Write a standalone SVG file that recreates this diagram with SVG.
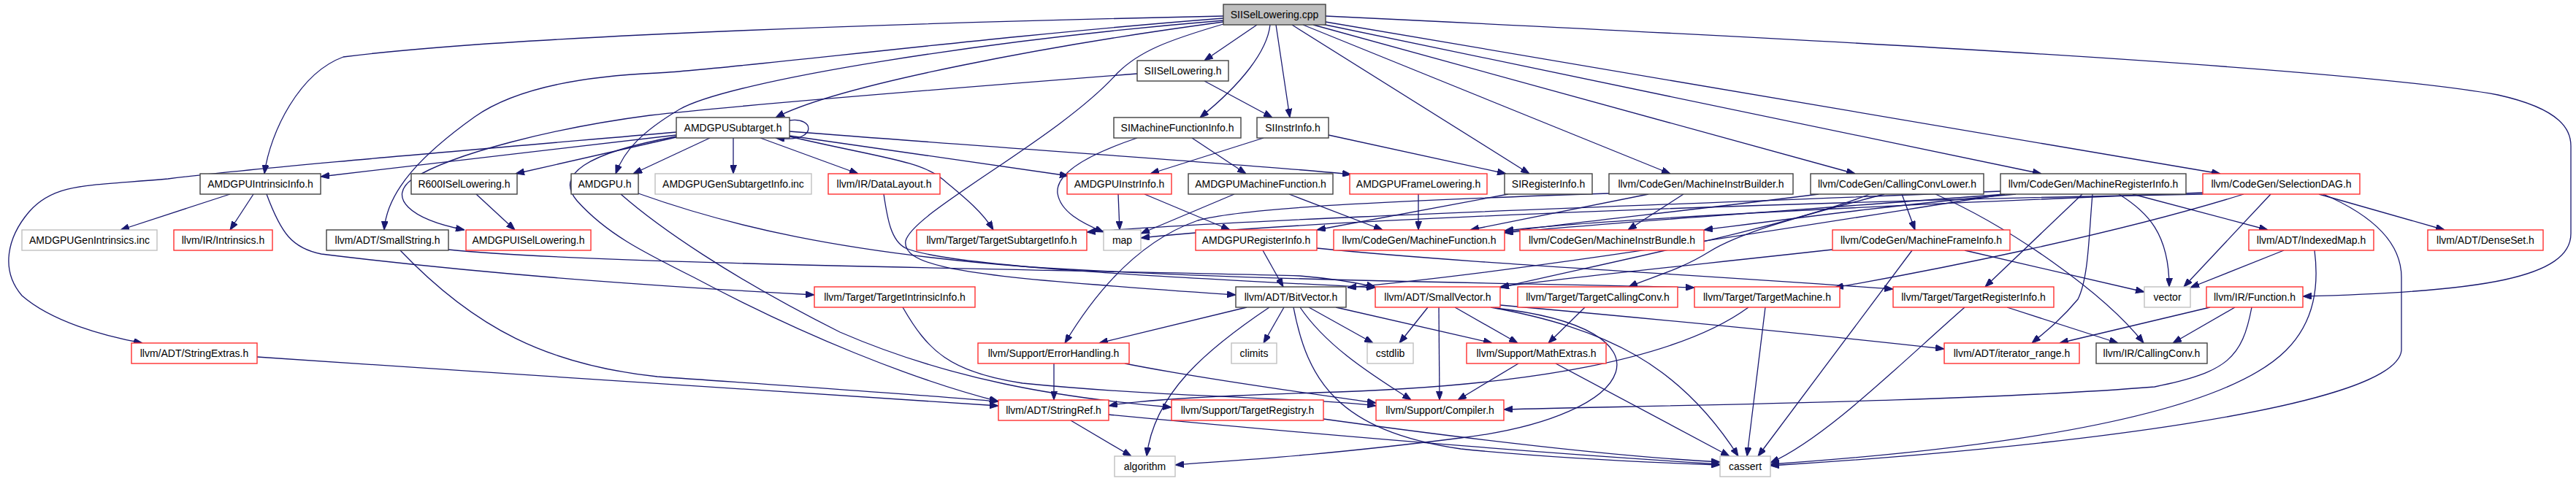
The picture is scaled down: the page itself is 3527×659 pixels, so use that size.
<svg xmlns="http://www.w3.org/2000/svg" width="3527" height="659" viewBox="0 0 3527 659">
<style>
rect{stroke-width:1.4}
.n{fill:#fff;stroke:#404040}
.r{fill:#fff;stroke:#ff3030}
.g{fill:#fff;stroke:#c0c0c0}
.root{fill:#bfbfbf;stroke:#404040}
text{font-family:"Liberation Sans",Arial,sans-serif;font-size:14px;fill:#000;text-anchor:middle}
#edges path{fill:none;stroke:#191970;stroke-width:1.3;marker-end:url(#a)}
</style>
<defs>
<marker id="a" markerUnits="userSpaceOnUse" viewBox="0 0 12 9" markerWidth="12" markerHeight="9" refX="12" refY="4.5" orient="auto">
<path d="M0,0 L12,4.5 L0,9 z" fill="#191970" stroke="#191970"/>
</marker>
</defs>
<rect width="3527" height="659" fill="#fff"/>
<g id="edges">
<path d="M1721,34 L1649,83"/>
<path d="M1747,34 L1766,161"/>
<path d="M1739,34 C1735,70 1700,115 1643,161"/>
<path d="M1675,30 C1450,60 1150,115 1062,161"/>
<path d="M1675,28 C1350,55 1000,110 930,150 C880,180 855,205 843,238"/>
<path d="M1675,22 C1300,30 700,48 470,78 C410,100 370,180 362,238"/>
<path d="M1675,25 C1350,50 1000,95 900,100 C780,105 700,125 650,160 C580,210 530,260 526,315"/>
<path d="M1675,33 C1600,55 1560,70 1530,100 C1450,190 1250,290 1240,330 C1235,360 1300,375 1500,390 C1600,398 1660,402 1692,404"/>
<path d="M1769,34 L2094,238"/>
<path d="M1784,34 L2287,238"/>
<path d="M1798,34 L2540,238"/>
<path d="M1810,33 L2795,238"/>
<path d="M1815,30 L3040,238"/>
<path d="M1815,22 C2400,50 3200,90 3420,130 C3510,150 3520,180 3520,200 L3520,320 C3520,380 3400,400 3153,406"/>
<path d="M1557,101 C1250,125 1000,145 890,158 C760,175 620,210 565,245 C530,270 560,300 636,315"/>
<path d="M1649,111 L1742,161"/>
<path d="M1081,165 C1115,160 1118,192 1075,190 L1062,189"/>
<path d="M972,189 L867,238"/>
<path d="M926,185 L439,242"/>
<path d="M926,181 C650,205 350,230 230,245 C120,255 75,250 40,290 C10,325 0,370 30,405 C70,440 140,460 195,470"/>
<path d="M926,188 L706,238"/>
<path d="M926,187 C800,210 760,240 790,275 C830,320 880,345 950,380 C1100,460 1250,520 1367,550"/>
<path d="M1004,189 L1004,238"/>
<path d="M1041,189 L1175,238"/>
<path d="M1081,186 L1463,241"/>
<path d="M1081,187 C1200,215 1260,220 1290,245 C1320,270 1345,290 1360,315"/>
<path d="M1081,180 C1400,205 1750,228 1850,239"/>
<path d="M1557,189 C1480,215 1445,240 1448,265 C1452,290 1480,305 1511,318"/>
<path d="M1632,189 L1706,238"/>
<path d="M1730,189 L1575,238"/>
<path d="M1819,185 L2062,238"/>
<path d="M315,266 L165,315"/>
<path d="M347,266 L315,315"/>
<path d="M365,266 C385,320 400,340 440,348 C700,380 950,395 1115,404"/>
<path d="M652,266 L705,315"/>
<path d="M850,266 C900,310 1000,380 1150,455 C1300,520 1450,545 1604,558"/>
<path d="M874,265 C1000,310 1150,345 1400,365 C1700,385 2100,388 2320,394"/>
<path d="M1210,266 C1215,300 1220,330 1240,340 C1300,365 1600,380 1883,394"/>
<path d="M1531,266 L1533,315"/>
<path d="M1567,266 L1684,315"/>
<path d="M1690,266 L1562,320"/>
<path d="M1765,266 L1893,315"/>
<path d="M1942,266 L1942,315"/>
<path d="M2065,266 L1803,315"/>
<path d="M2257,266 L2013,315"/>
<path d="M2305,266 L2229,315"/>
<path d="M2203,265 C1900,275 1700,285 1640,302 C1560,330 1500,400 1458,470"/>
<path d="M2490,266 C2300,290 2150,305 2060,318"/>
<path d="M2560,266 C2450,310 2200,360 2054,394"/>
<path d="M2580,266 C2450,300 2380,320 2340,345 C2300,370 2260,380 2230,393"/>
<path d="M2604,266 L2622,315"/>
<path d="M2650,266 C2750,310 2880,400 2935,470"/>
<path d="M2745,266 C2500,285 2200,305 2060,319"/>
<path d="M2760,266 C2600,280 2450,300 2333,315"/>
<path d="M2745,266 C2400,320 2100,370 1845,394"/>
<path d="M2739,262 C2300,280 1700,300 1488,318"/>
<path d="M2851,266 L2718,393"/>
<path d="M2920,266 L3105,315"/>
<path d="M2865,266 C2860,320 2860,380 2845,410 C2820,440 2800,455 2782,470"/>
<path d="M2901,266 C2940,290 2970,320 2970,393"/>
<path d="M3016,266 C2500,275 1800,300 1562,326"/>
<path d="M3016,264 C2600,280 2200,300 2060,316"/>
<path d="M3072,266 C2900,320 2650,370 2512,394"/>
<path d="M3109,266 L2990,393"/>
<path d="M3175,266 L3347,315"/>
<path d="M3181,266 C3260,300 3288,340 3288,380 L3288,480 C3280,560 2800,615 2424,638"/>
<path d="M3127,343 L2999,394"/>
<path d="M3169,343 C3175,390 3170,440 3130,480 C3050,560 2800,610 2424,636"/>
<path d="M2690,343 L2936,400"/>
<path d="M2618,343 L2407,625"/>
<path d="M2509,342 C2300,365 2150,380 2054,393"/>
<path d="M1729,343 L1757,393"/>
<path d="M1803,340 C2000,360 2300,375 2592,396"/>
<path d="M1236,421 C1270,480 1300,510 1400,525 C1600,545 1800,545 1884,556"/>
<path d="M1707,421 L1505,470"/>
<path d="M1738,421 C1650,480 1580,540 1570,625"/>
<path d="M1758,421 L1730,470"/>
<path d="M1771,421 C1790,520 1830,590 2000,615 C2150,630 2300,635 2355,637"/>
<path d="M1780,421 C1820,480 1890,520 1932,548"/>
<path d="M1792,421 L1880,470"/>
<path d="M1829,421 L2043,470"/>
<path d="M1955,421 L1916,470"/>
<path d="M1970,421 L1971,548"/>
<path d="M1992,421 L2078,470"/>
<path d="M2041,421 C2200,450 2300,500 2380,625"/>
<path d="M2047,422 C2300,450 2250,570 2000,600 C1800,625 1700,630 1609,637"/>
<path d="M2054,418 C2300,440 2500,460 2662,478"/>
<path d="M2170,421 L2120,470"/>
<path d="M2394,421 C2300,490 2100,530 1800,538 C1650,543 1560,548 1518,556"/>
<path d="M2417,421 L2392,625"/>
<path d="M2079,498 L1996,548"/>
<path d="M2130,498 L2368,625"/>
<path d="M2748,421 L2900,470"/>
<path d="M2690,421 C2600,500 2500,600 2424,634"/>
<path d="M3026,421 L2820,470"/>
<path d="M3060,421 L2975,470"/>
<path d="M3083,421 C3070,490 3050,510 2950,530 C2700,550 2300,555 2059,561"/>
<path d="M1443,498 L1443,548"/>
<path d="M1540,498 C1650,520 1800,540 1884,552"/>
<path d="M1466,576 L1549,625"/>
<path d="M1518,568 C1800,595 2100,620 2355,636"/>
<path d="M1812,574 C2000,600 2200,625 2355,633"/>
<path d="M614,342 C800,362 1500,370 1780,378 C1830,382 1860,388 1883,393"/>
<path d="M548,343 C650,450 750,500 900,516 C1100,530 1250,540 1367,550"/>
<path d="M352,489 C700,512 1100,540 1367,556"/>
</g>
<g id="n_cpp"><rect class="root" x="1675" y="6" width="140" height="28"/><text x="1745" y="25">SIISelLowering.cpp</text></g>
<g id="n_sih"><rect class="n" x="1557" y="83" width="125" height="28"/><text x="1619.5" y="102">SIISelLowering.h</text></g>
<g id="n_sub"><rect class="n" x="926" y="161" width="155" height="28"/><text x="1003.5" y="180">AMDGPUSubtarget.h</text></g>
<g id="n_simfi"><rect class="n" x="1525" y="161" width="174" height="28"/><text x="1612" y="180">SIMachineFunctionInfo.h</text></g>
<g id="n_siii"><rect class="n" x="1721" y="161" width="98" height="28"/><text x="1770" y="180">SIInstrInfo.h</text></g>
<g id="n_intr"><rect class="n" x="274" y="238" width="165" height="28"/><text x="356.5" y="257">AMDGPUIntrinsicInfo.h</text></g>
<g id="n_r600"><rect class="n" x="563" y="238" width="145" height="28"/><text x="635.5" y="257">R600ISelLowering.h</text></g>
<g id="n_amdgpu"><rect class="n" x="782" y="238" width="92" height="28"/><text x="828" y="257">AMDGPU.h</text></g>
<g id="n_gensub"><rect class="g" x="897" y="238" width="214" height="28"/><text x="1004" y="257">AMDGPUGenSubtargetInfo.inc</text></g>
<g id="n_dl"><rect class="r" x="1134" y="238" width="153" height="28"/><text x="1210.5" y="257">llvm/IR/DataLayout.h</text></g>
<g id="n_aii"><rect class="r" x="1461" y="238" width="143" height="28"/><text x="1532.5" y="257">AMDGPUInstrInfo.h</text></g>
<g id="n_amf"><rect class="n" x="1627" y="238" width="198" height="28"/><text x="1726" y="257">AMDGPUMachineFunction.h</text></g>
<g id="n_afl"><rect class="r" x="1848" y="238" width="188" height="28"/><text x="1942" y="257">AMDGPUFrameLowering.h</text></g>
<g id="n_sri"><rect class="n" x="2060" y="238" width="120" height="28"/><text x="2120" y="257">SIRegisterInfo.h</text></g>
<g id="n_mib"><rect class="n" x="2203" y="238" width="252" height="28"/><text x="2329" y="257">llvm/CodeGen/MachineInstrBuilder.h</text></g>
<g id="n_ccl"><rect class="n" x="2479" y="238" width="237" height="28"/><text x="2597.5" y="257">llvm/CodeGen/CallingConvLower.h</text></g>
<g id="n_mri"><rect class="n" x="2739" y="238" width="254" height="28"/><text x="2866" y="257">llvm/CodeGen/MachineRegisterInfo.h</text></g>
<g id="n_sdag"><rect class="r" x="3016" y="238" width="215" height="28"/><text x="3123.5" y="257">llvm/CodeGen/SelectionDAG.h</text></g>
<g id="n_genintr"><rect class="g" x="30" y="315" width="185" height="28"/><text x="122.5" y="334">AMDGPUGenIntrinsics.inc</text></g>
<g id="n_intrh"><rect class="r" x="238" y="315" width="135" height="28"/><text x="305.5" y="334">llvm/IR/Intrinsics.h</text></g>
<g id="n_sstr"><rect class="n" x="447" y="315" width="167" height="28"/><text x="530.5" y="334">llvm/ADT/SmallString.h</text></g>
<g id="n_aisl"><rect class="r" x="638" y="315" width="171" height="28"/><text x="723.5" y="334">AMDGPUISelLowering.h</text></g>
<g id="n_tsi"><rect class="r" x="1255" y="315" width="233" height="28"/><text x="1371.5" y="334">llvm/Target/TargetSubtargetInfo.h</text></g>
<g id="n_map"><rect class="g" x="1511" y="315" width="51" height="28"/><text x="1536.5" y="334">map</text></g>
<g id="n_ari"><rect class="r" x="1637" y="315" width="166" height="28"/><text x="1720" y="334">AMDGPURegisterInfo.h</text></g>
<g id="n_mf"><rect class="r" x="1826" y="315" width="234" height="28"/><text x="1943" y="334">llvm/CodeGen/MachineFunction.h</text></g>
<g id="n_mibund"><rect class="r" x="2081" y="315" width="252" height="28"/><text x="2207" y="334">llvm/CodeGen/MachineInstrBundle.h</text></g>
<g id="n_mfi"><rect class="r" x="2509" y="315" width="243" height="28"/><text x="2630.5" y="334">llvm/CodeGen/MachineFrameInfo.h</text></g>
<g id="n_im"><rect class="r" x="3079" y="315" width="171" height="28"/><text x="3164.5" y="334">llvm/ADT/IndexedMap.h</text></g>
<g id="n_ds"><rect class="r" x="3324" y="315" width="158" height="28"/><text x="3403" y="334">llvm/ADT/DenseSet.h</text></g>
<g id="n_tii"><rect class="r" x="1115" y="393" width="220" height="28"/><text x="1225" y="412">llvm/Target/TargetIntrinsicInfo.h</text></g>
<g id="n_bv"><rect class="n" x="1692" y="393" width="151" height="28"/><text x="1767.5" y="412">llvm/ADT/BitVector.h</text></g>
<g id="n_sv"><rect class="r" x="1883" y="393" width="171" height="28"/><text x="1968.5" y="412">llvm/ADT/SmallVector.h</text></g>
<g id="n_tcc"><rect class="r" x="2078" y="393" width="219" height="28"/><text x="2187.5" y="412">llvm/Target/TargetCallingConv.h</text></g>
<g id="n_tm"><rect class="r" x="2320" y="393" width="199" height="28"/><text x="2419.5" y="412">llvm/Target/TargetMachine.h</text></g>
<g id="n_tri"><rect class="r" x="2592" y="393" width="220" height="28"/><text x="2702" y="412">llvm/Target/TargetRegisterInfo.h</text></g>
<g id="n_vec"><rect class="g" x="2936" y="393" width="63" height="28"/><text x="2967.5" y="412">vector</text></g>
<g id="n_fn"><rect class="r" x="3021" y="393" width="132" height="28"/><text x="3087" y="412">llvm/IR/Function.h</text></g>
<g id="n_sext"><rect class="r" x="180" y="470" width="172" height="28"/><text x="266" y="489">llvm/ADT/StringExtras.h</text></g>
<g id="n_eh"><rect class="r" x="1339" y="470" width="207" height="28"/><text x="1442.5" y="489">llvm/Support/ErrorHandling.h</text></g>
<g id="n_climits"><rect class="g" x="1686" y="470" width="62" height="28"/><text x="1717" y="489">climits</text></g>
<g id="n_cstdlib"><rect class="g" x="1872" y="470" width="63" height="28"/><text x="1903.5" y="489">cstdlib</text></g>
<g id="n_mex"><rect class="r" x="2008" y="470" width="191" height="28"/><text x="2103.5" y="489">llvm/Support/MathExtras.h</text></g>
<g id="n_ir"><rect class="r" x="2662" y="470" width="185" height="28"/><text x="2754.5" y="489">llvm/ADT/iterator_range.h</text></g>
<g id="n_cc"><rect class="n" x="2870" y="470" width="152" height="28"/><text x="2946" y="489">llvm/IR/CallingConv.h</text></g>
<g id="n_sref"><rect class="r" x="1367" y="548" width="151" height="28"/><text x="1442.5" y="567">llvm/ADT/StringRef.h</text></g>
<g id="n_treg"><rect class="r" x="1604" y="548" width="208" height="28"/><text x="1708" y="567">llvm/Support/TargetRegistry.h</text></g>
<g id="n_comp"><rect class="r" x="1884" y="548" width="175" height="28"/><text x="1971.5" y="567">llvm/Support/Compiler.h</text></g>
<g id="n_alg"><rect class="g" x="1526" y="625" width="83" height="28"/><text x="1567.5" y="644">algorithm</text></g>
<g id="n_cassert"><rect class="g" x="2355" y="625" width="69" height="28"/><text x="2389.5" y="644">cassert</text></g>
</svg>
